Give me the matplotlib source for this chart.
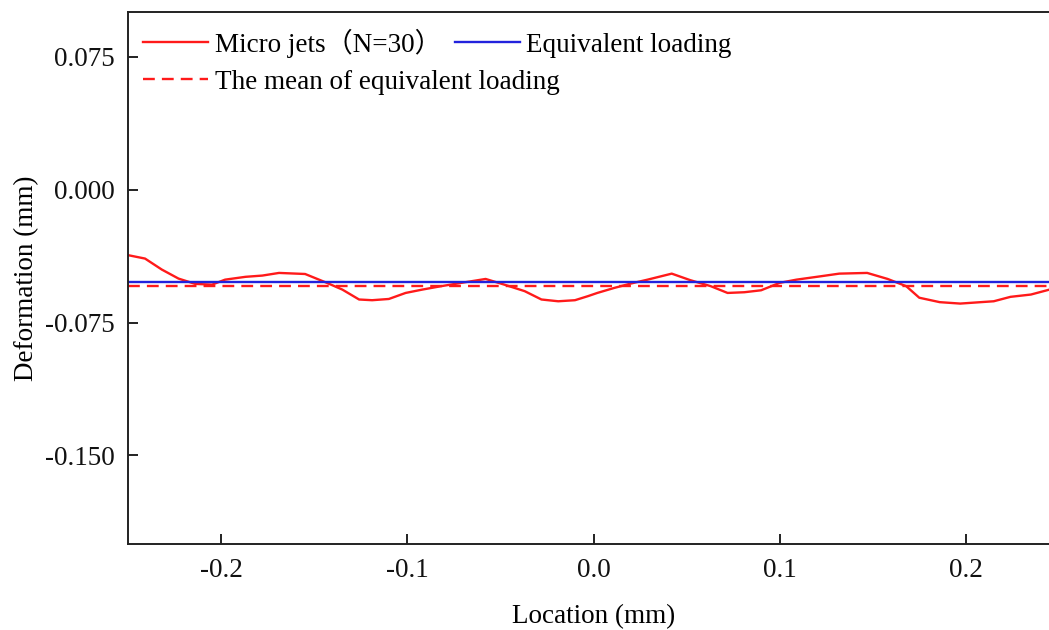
import matplotlib
matplotlib.use("Agg")
import matplotlib.pyplot as plt
import numpy as np

plt.rcParams['font.family'] = ['Liberation Serif', 'Noto Sans CJK SC']

# Micro jets (N=30) deformation curve
loc = [-0.25, -0.241, -0.232, -0.223, -0.214, -0.205, -0.198, -0.187, -0.178, -0.169,
       -0.155, -0.144, -0.135, -0.126, -0.119, -0.110, -0.101, -0.092, -0.082, -0.071,
       -0.058, -0.048, -0.037, -0.028, -0.019, -0.010, -0.003, 0.002, 0.011, 0.020,
       0.029, 0.042, 0.052, 0.063, 0.072, 0.081, 0.090, 0.100, 0.109, 0.122,
       0.132, 0.147, 0.158, 0.168, 0.175, 0.186, 0.197, 0.208, 0.215, 0.224,
       0.235, 0.245, 0.25]
deform = [-0.037, -0.0389, -0.0451, -0.0502, -0.0532, -0.0536, -0.0508, -0.0492, -0.0485, -0.0470,
          -0.0476, -0.0523, -0.0564, -0.0620, -0.0624, -0.0617, -0.0583, -0.0564, -0.0545, -0.0526,
          -0.0504, -0.0536, -0.0573, -0.0620, -0.0630, -0.0624, -0.0601, -0.0583, -0.0555, -0.0530,
          -0.0508, -0.0474, -0.0511, -0.0545, -0.0583, -0.0579, -0.0568, -0.0526, -0.0508, -0.0489,
          -0.0474, -0.0470, -0.0504, -0.0545, -0.0610, -0.0635, -0.0643, -0.0635, -0.0630, -0.0605,
          -0.0592, -0.0564, -0.0552]
equivalent = -0.0523
mean_equivalent = -0.0541

xticks = [-0.2, -0.1, 0.0, 0.1, 0.2]
xtick_labels = ['-0.2', '-0.1', '0.0', '0.1', '0.2']
yticks = [0.075, 0.0, -0.075, -0.150]
ytick_labels = ['0.075', '0.000', '-0.075', '-0.150']

FS = 19.5
fig = plt.figure(figsize=(10.49, 6.30), dpi=100)
ax = fig.add_axes([0.1223, 0.1365, 0.8871, 0.8437])

l1, = ax.plot(loc, deform, color='#FF1A1A', lw=1.7, label='Micro jets（N=30）')
l2 = ax.axhline(equivalent, color='#2222DD', lw=1.7, label='Equivalent loading')
l3 = ax.axhline(mean_equivalent, color='#FF1A1A', lw=1.7, ls=(0, (5, 3)),
                label='The mean of equivalent loading')

ax.set_xlim(-0.25, 0.25)
ax.set_ylim(-0.2, 0.1)
ax.set_xticks(xticks)
ax.set_xticklabels(xtick_labels)
ax.set_yticks(yticks)
ax.set_yticklabels(ytick_labels)
ax.tick_params(direction='in', length=7, width=1.3, labelsize=FS, pad=10, colors='#111111')
ax.tick_params(axis='y', pad=10)
for s in ['left', 'bottom', 'top', 'right']:
    ax.spines[s].set_linewidth(1.4)
    ax.spines[s].set_color('#222222')

ax.set_xlabel('Location (mm)', fontsize=FS, labelpad=15)
ax.set_ylabel('Deformation (mm)', fontsize=FS, labelpad=4)

leg1 = ax.legend(handles=[l1, l2], ncol=2, frameon=False, fontsize=FS,
                 loc='center left', bbox_to_anchor=(0.0158, 0.9426), handlelength=2.4,
                 handletextpad=0.25, columnspacing=0.48, borderaxespad=0, borderpad=0)
ax.add_artist(leg1)
ax.legend(handles=[l3], frameon=False, fontsize=FS,
          loc='center left', bbox_to_anchor=(0.0158, 0.869), handlelength=2.4,
          handletextpad=0.25, borderaxespad=0, borderpad=0)

fig.savefig('out.png', dpi=100)
